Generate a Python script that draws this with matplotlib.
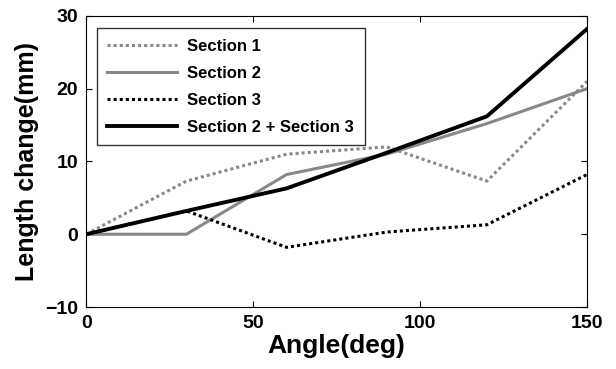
import matplotlib
matplotlib.use("Agg")
import matplotlib.pyplot as plt

plt.rcParams['font.family'] = ['Liberation Sans', 'DejaVu Sans']

angle = [0, 30, 60, 90, 120, 150]
section1 = [0, 7.3, 11.0, 12.0, 7.3, 21.0]
section2 = [0, 0, 8.2, 11.0, 15.2, 20.0]
section3 = [0, 3.2, -1.8, 0.3, 1.3, 8.2]
section23 = [0, 3.2, 6.3, 11.2, 16.2, 28.2]
labels = ['Section 1', 'Section 2', 'Section 3', 'Section 2 + Section 3']

fig = plt.figure(figsize=(6.16, 3.69), dpi=100)
ax = fig.add_axes([0.140, 0.168, 0.813, 0.789])

ax.plot(angle, section1, color='#888888', linestyle=(0, (1, 1)), linewidth=2.2, label=labels[0])
ax.plot(angle, section2, color='#888888', linestyle='-', linewidth=2.2, label=labels[1])
ax.plot(angle, section3, color='black', linestyle=(0, (1, 1)), linewidth=2.2, label=labels[2])
ax.plot(angle, section23, color='black', linestyle='-', linewidth=2.8, label=labels[3])

ax.set_xlim(0, 150)
ax.set_ylim(-10, 30)
ax.set_xticks([0, 50, 100, 150])
ax.set_yticks([-10, 0, 10, 20, 30])
ax.tick_params(direction='in', length=4, labelsize=14, top=True, right=True, pad=6)
for lab in ax.get_xticklabels() + ax.get_yticklabels():
    lab.set_fontweight('bold')
ax.set_xlabel('Angle(deg)', fontsize=19, fontweight='bold', labelpad=1)
ax.set_ylabel('Length change(mm)', fontsize=18, fontweight='bold', labelpad=4)

leg = ax.legend(loc='upper left', bbox_to_anchor=(0.004, 0.988), frameon=True, fancybox=False,
                edgecolor='black', prop={'weight': 'bold', 'size': 12},
                handlelength=4.2, borderpad=0.65, labelspacing=0.72, handletextpad=0.6)
leg.get_frame().set_linewidth(1.0)

fig.savefig('out.png', dpi=100)
